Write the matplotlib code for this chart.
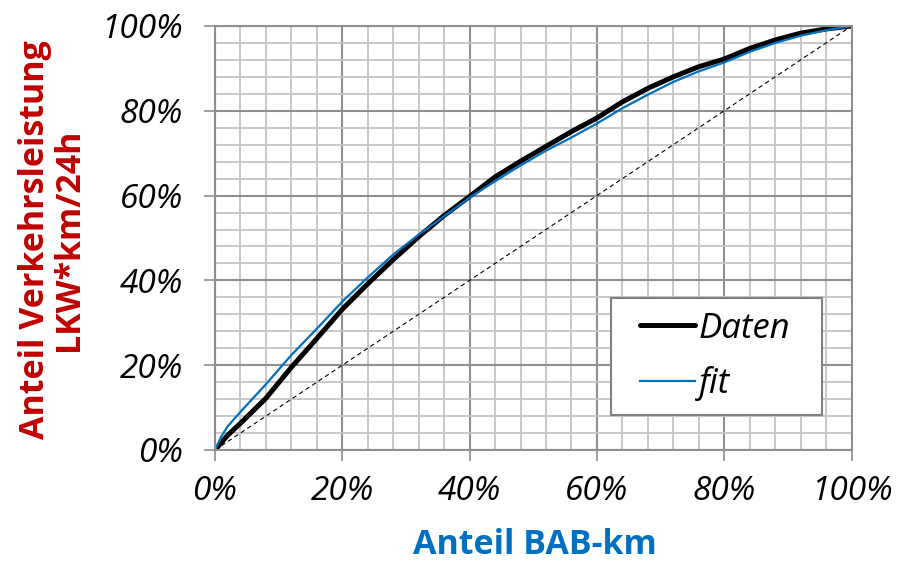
import numpy as np
import matplotlib
matplotlib.use("Agg")
import matplotlib.pyplot as plt
from matplotlib.patches import Rectangle
from matplotlib.ticker import MultipleLocator, PercentFormatter

# values (percent)
x_daten = [0, 2, 4, 8, 12, 16, 20, 24, 28, 32, 36, 40, 44, 48, 52, 56,
           60, 64, 68, 72, 76, 80, 84, 88, 92, 96, 100]
y_daten = [0, 3.5, 6.3, 12.2, 19.5, 26.3, 33.2, 39.2, 44.9, 50.3, 55.3, 59.8, 64.4, 68.1, 71.6, 75.1,
           78.3, 82.1, 85.3, 88.0, 90.4, 92.2, 94.7, 96.7, 98.3, 99.3, 100]
x_fit = [0, 1, 2, 4, 8, 12, 16, 20, 24, 28, 32, 36, 40, 44, 48, 52, 56,
         60, 64, 68, 72, 76, 80, 84, 88, 92, 96, 100]
y_fit = [0, 3.2, 5.6, 9.0, 15.5, 22.4, 28.6, 35.0, 40.7, 46.1, 50.8, 55.1, 59.5, 63.4, 67.1, 70.6, 73.7,
         77.0, 80.6, 83.8, 86.8, 89.3, 91.4, 93.9, 96.0, 97.7, 99.0, 100]
diag = [0, 100]

plt.rcParams['font.family'] = ['Open Sans', 'DejaVu Sans']

fig = plt.figure(figsize=(9.11, 5.62), dpi=100)
ax = fig.add_axes([215/911, 1-450/562, 636.5/911, 424/562])

ax.set_xlim(0, 100)
ax.set_ylim(0, 100)
ax.xaxis.set_major_locator(MultipleLocator(20))
ax.yaxis.set_major_locator(MultipleLocator(20))
ax.xaxis.set_minor_locator(MultipleLocator(4))
ax.yaxis.set_minor_locator(MultipleLocator(4))
ax.xaxis.set_major_formatter(PercentFormatter(decimals=0))
ax.yaxis.set_major_formatter(PercentFormatter(decimals=0))

ax.grid(which='minor', color='#c4c4c4', lw=1.3)
ax.grid(which='major', color='#8f8f8f', lw=1.5)
ax.set_axisbelow(True)
for s in ax.spines.values():
    s.set_color('#8f8f8f')
    s.set_linewidth(1.5)

ax.tick_params(which='major', direction='out', length=8, width=1.2, color='#8f8f8f', labelsize=24)
ax.tick_params(which='minor', length=0)
ax.tick_params(axis='y', pad=15)
ax.tick_params(axis='x', pad=10)
for lab in ax.get_xticklabels() + ax.get_yticklabels():
    lab.set_fontstyle('italic')

ax.plot(diag, diag, color='black', lw=0.8, ls=(0, (4, 3)))
ax.plot(x_daten, y_daten, color='black', lw=3.6, label='Daten', solid_capstyle='round')
ax.plot(x_fit, y_fit, color='#0070C0', lw=1.6, label='fit')

# legend box drawn by hand so the padding can differ per side
box = Rectangle((0.622, 0.0825), 0.3315, 0.276, transform=ax.transAxes,
                facecolor='white', edgecolor='#808080', lw=1.5, zorder=4)
ax.add_patch(box)
leg = ax.legend(loc='center', bbox_to_anchor=(0.786, 0.2205), frameon=False,
                prop={'size': 25, 'style': 'italic'},
                handlelength=1.58, handletextpad=0.12, labelspacing=0.6,
                borderpad=0, borderaxespad=0)
leg.set_zorder(5)

fig.text(535/911, 1-554/562, 'Anteil BAB-km', ha='center', va='baseline',
         fontsize=24.5, fontweight='bold', color='#0070C0')
fig.text(52/911, 1-240/562, 'Anteil Verkehrsleistung\nLKW*km/24h', ha='center', va='center',
         rotation=90, fontsize=24.5, fontweight='bold', color='#C00000',
         multialignment='center', linespacing=1.0)

fig.savefig('out.png', dpi=100)
